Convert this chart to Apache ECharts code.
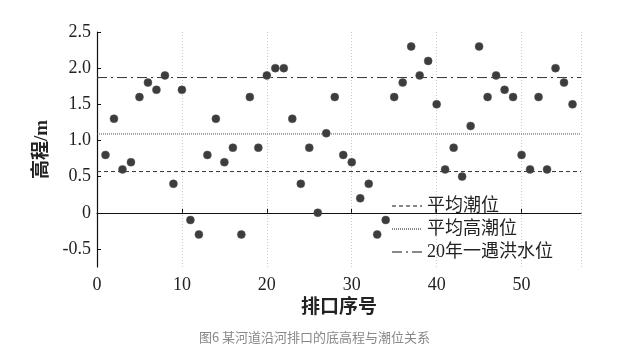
<!DOCTYPE html>
<html>
<head>
<meta charset="utf-8">
<script src="https://cdn.jsdelivr.net/npm/echarts@6/dist/echarts.min.js"></script>
<style>
  html, body { margin: 0; padding: 0; background: #fff; }
  #chart { width: 629px; height: 355px; }
</style>
</head>
<body>
<div id="chart"></div>
<script>
// 排口底高程 (m)，排口序号 1..56
const outletNo = [];
for (let i = 1; i <= 56; i++) outletNo.push(i);
const bottomElev = [
  0.8, 1.3, 0.6, 0.7, 1.6, 1.8, 1.7, 1.9, 0.4, 1.7,
  -0.1, -0.3, 0.8, 1.3, 0.7, 0.9, -0.3, 1.6, 0.9, 1.9,
  2.0, 2.0, 1.3, 0.4, 0.9, 0.0, 1.1, 1.6, 0.8, 0.7,
  0.2, 0.4, -0.3, -0.1, 1.6, 1.8, 2.3, 1.9, 2.1, 1.5,
  0.6, 0.9, 0.5, 1.2, 2.3, 1.6, 1.9, 1.7, 1.6, 0.8,
  0.6, 1.6, 0.6, 2.0, 1.8, 1.5
];
// 潮位 (m)
const levelNames = ['平均潮位', '平均高潮位', '20年一遇洪水位'];
const levelValues = [0.57, 1.09, 1.87];
const xTicks = [0, 10, 20, 30, 40, 50];
const yTicks = [-0.5, 0, 0.5, 1.0, 1.5, 2.0, 2.5];

const xMin = 0, xMax = 57;
const serif = '"Liberation Serif", "Noto Sans CJK SC", serif';
const levelStyles = [
  { type: [4, 3], color: '#333' },
  { type: [1, 1], color: '#555' },
  { type: [10, 4, 2, 4], color: '#333' }
];

let myChart = echarts.init(document.getElementById('chart'));

const scatterData = outletNo.map((n, i) => [n, bottomElev[i]]);

const levelSeries = levelNames.map((name, i) => ({
  name: name,
  type: 'line',
  symbol: 'none',
  silent: true,
  lineStyle: { width: 1, type: levelStyles[i].type, color: levelStyles[i].color },
  itemStyle: { color: levelStyles[i].color },
  data: [[xMin, levelValues[i]], [xMax, levelValues[i]]],
  z: 1
}));

let option = {
  animation: false,
  title: {
    text: '图6 某河道沿河排口的底高程与潮位关系',
    left: 'center',
    top: 326,
    textStyle: {
      fontFamily: '"Noto Sans CJK SC", sans-serif',
      fontSize: 13,
      fontWeight: 'normal',
      color: '#888'
    }
  },
  legend: {
    data: levelNames,
    orient: 'vertical',
    left: 386,
    top: 192,
    itemWidth: 30,
    itemHeight: 12,
    itemGap: 5,
    itemStyle: { opacity: 0 },
    lineStyle: { color: '#888' },
    textStyle: { fontFamily: serif, fontSize: 18, color: '#222', lineHeight: 18 }
  },
  grid: { left: 97, right: 48, top: 32, bottom: 88 },
  xAxis: {
    type: 'value',
    min: xMin,
    max: xMax,
    interval: 10,
    name: '排口序号',
    nameLocation: 'middle',
    nameGap: 26,
    nameTextStyle: { fontFamily: serif, fontSize: 19, fontWeight: 'bold', color: '#222' },
    axisLine: { lineStyle: { color: '#111', width: 1.2 } },
    axisTick: { inside: true, length: 4, lineStyle: { color: '#111' } },
    axisLabel: {
      margin: 9,
      fontFamily: serif,
      fontSize: 18,
      color: '#222',
      showMaxLabel: false,
      formatter: v => (xTicks.indexOf(v) >= 0 ? String(v) : '')
    },
    splitLine: { show: true, lineStyle: { color: '#ccc', type: [1, 2] } }
  },
  yAxis: {
    type: 'value',
    min: -0.75,
    max: 2.5,
    name: '高程/m',
    nameLocation: 'middle',
    nameGap: 40,
    nameTextStyle: { fontFamily: serif, fontSize: 19, fontWeight: 'bold', color: '#222' },
    axisLine: { show: true, lineStyle: { color: '#111', width: 1.2 } },
    axisTick: { show: true, inside: true, length: 4, customValues: yTicks, lineStyle: { color: '#111' } },
    axisLabel: {
      margin: 6,
      fontFamily: serif,
      fontSize: 18,
      color: '#222',
      customValues: yTicks,
      formatter: v => (v === 0 ? '0' : v.toFixed(1))
    },
    splitLine: { show: false }
  },
  series: [
    {
      name: '排口底高程',
      type: 'scatter',
      symbolSize: 8,
      itemStyle: { color: '#3d3d3d', borderColor: '#555', borderWidth: 0.5, opacity: 1 },
      data: scatterData,
      z: 3
    }
  ].concat(levelSeries)
};

myChart.setOption(option);
</script>
</body>
</html>
